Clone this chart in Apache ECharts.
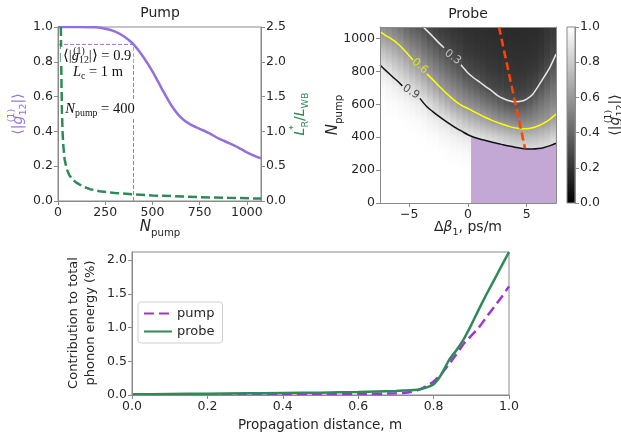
<!DOCTYPE html>
<html><head><meta charset="utf-8">
<script src="https://cdn.jsdelivr.net/npm/echarts@6/dist/echarts.min.js"></script>
<style>html,body{margin:0;padding:0;background:#fff}#c{width:621px;height:439px}</style>
</head><body><div id="c"></div>
<script>
// ---------- Pump panel ----------
const pumpN = [0,100,200,250,300,350,400,450,500,550,600,650,700,750,800,850,900,950,1000,1050,1075];
const pumpG = [1,1,0.998,0.99,0.975,0.945,0.9,0.83,0.745,0.645,0.55,0.48,0.44,0.415,0.39,0.36,0.335,0.31,0.28,0.255,0.245];
const lrN = [15,17,19,21,24,28,35,45,60,80,100,130,170,220,300,400,500,600,750,900,1075];
const lrRatio = [2.5,2.0,1.6,1.3,1.0,0.8,0.6,0.47,0.37,0.3,0.26,0.21,0.17,0.14,0.115,0.095,0.08,0.07,0.055,0.045,0.035];
const pumpMarkN = 400, pumpMarkG = 0.9;
const pumpXTicks = [0,250,500,750,1000];

// ---------- Probe panel ----------
const probeDB = [-7.25,-6.75,-6.25,-5.75,-5.25,-4.75,-4.25,-3.75,-3.25,-2.75,-2.25,-1.75,-1.25,-0.75,-0.25,0.25,0.75,1.25,1.75,2.25,2.75,3.25,3.75,4.25,4.75,5.25,5.75,6.25,6.75,7.25];
const probeNLevels = [0,100,200,300,400,500,600,700,800,900,1000,1100];
const probeG = [
 [1,1,1,1,1,1,0.997,0.975,0.915,0.79,0.64,0.52],
 [1,1,1,1,1,1,0.99,0.96,0.885,0.75,0.61,0.49],
 [1,1,1,1,1,1,0.985,0.94,0.84,0.71,0.58,0.45],
 [1,1,1,1,1,0.997,0.975,0.915,0.8,0.67,0.54,0.41],
 [1,1,1,1,1,0.993,0.96,0.89,0.755,0.62,0.49,0.36],
 [1,1,1,1,1,0.988,0.945,0.85,0.71,0.57,0.45,0.32],
 [1,1,1,1,0.998,0.98,0.925,0.81,0.665,0.54,0.425,0.31],
 [1,1,1,1,0.995,0.968,0.905,0.76,0.615,0.49,0.38,0.28],
 [1,1,1,1,0.99,0.948,0.856,0.705,0.563,0.45,0.334,0.255],
 [1,1,1,1,0.983,0.93,0.808,0.65,0.522,0.407,0.295,0.232],
 [1,1,1,0.996,0.97,0.91,0.758,0.594,0.48,0.366,0.27,0.22],
 [1,1,1,0.993,0.96,0.882,0.707,0.555,0.44,0.325,0.25,0.207],
 [1,1,1,0.988,0.945,0.838,0.655,0.518,0.4,0.29,0.23,0.197],
 [1,1,1,0.984,0.932,0.796,0.606,0.482,0.361,0.267,0.217,0.19],
 [1,1,0.997,0.975,0.918,0.758,0.577,0.44,0.304,0.237,0.2,0.18],
 [1,1,0.995,0.968,0.905,0.723,0.55,0.407,0.283,0.226,0.195,0.177],
 [1,1,0.994,0.962,0.888,0.69,0.52,0.371,0.266,0.216,0.19,0.175],
 [1,1,0.992,0.958,0.867,0.658,0.488,0.333,0.25,0.207,0.186,0.173],
 [1,1,0.99,0.95,0.845,0.626,0.456,0.297,0.233,0.2,0.18,0.17],
 [1,1,0.988,0.945,0.822,0.595,0.42,0.28,0.223,0.195,0.178,0.168],
 [1,1,0.986,0.94,0.8,0.569,0.383,0.265,0.215,0.19,0.175,0.165],
 [1,1,0.985,0.935,0.776,0.545,0.354,0.253,0.21,0.187,0.173,0.163],
 [1,1,0.982,0.93,0.754,0.525,0.334,0.247,0.206,0.185,0.172,0.162],
 [1,1,0.98,0.925,0.737,0.515,0.33,0.246,0.205,0.184,0.171,0.162],
 [1,1,0.978,0.92,0.729,0.517,0.343,0.25,0.208,0.186,0.172,0.163],
 [1,1,0.977,0.918,0.73,0.529,0.371,0.265,0.215,0.19,0.175,0.165],
 [1,1,0.977,0.918,0.742,0.551,0.415,0.29,0.228,0.197,0.178,0.168],
 [1,1,0.98,0.923,0.762,0.575,0.46,0.346,0.262,0.213,0.19,0.175],
 [1,1,0.983,0.93,0.79,0.598,0.498,0.398,0.3,0.245,0.215,0.195],
 [1,1,0.986,0.94,0.822,0.644,0.534,0.446,0.358,0.28,0.235,0.21]
];
const contour09 = [[-7.5,839],[-7,805],[-6.5,772],[-6,740],[-5.6,712],null,[-4.1,636],[-3.5,585],[-3,556],[-2.5,528],[-2,502],[-1.5,478],[-1,455],[-0.5,435],[0,415],[0.5,400],[1,389],[1.5,380],[2,371],[2.5,362],[3,354],[3.5,346],[4,339],[4.5,333],[5,329],[5.5,328],[6,331],[6.5,338],[7,349],[7.5,363]];
const contour06 = [[-7.5,1040],[-7,1018],[-6.5,996],[-6,970],[-5.5,935],[-5,895],[-4.7,870],null,[-3.5,785],[-3,750],[-2.5,713],[-2,678],[-1.5,645],[-1,615],[-0.5,592],[0,575],[0.5,555],[1,537],[1.5,520],[2,504],[2.5,490],[3,477],[3.5,466],[4,457],[4.5,452],[5,452],[5.5,458],[6,470],[6.5,487],[7,510],[7.5,540]];
const contour03 = [[-4.1,1090],[-3.5,1048],[-3,1012],[-2.5,975],[-2.05,944],null,[-0.6,840],[-0.3,815],[0,790],[0.5,760],[1,735],[1.5,708],[2,683],[2.5,655],[3,635],[3.5,622],[4,615],[4.5,618],[5,632],[5.5,660],[6,712],[6.5,768],[7,828],[7.5,905]];
const contourLabels = [
  {pos:[-4.86,675], text:'0.9', angle:-33, color:'#2a2a2a'},
  {pos:[-4.1,832], text:'0.6', angle:-42, color:'#f0f000'},
  {pos:[-1.3,887], text:'0.3', angle:-36, color:'#d8d8d8'}
];
const optimumLine = [[2.64,1070],[4.86,332]];
const shadedRegion = [[0.26,406],[0.5,400],[1,389],[1.5,380],[2,371],[2.5,362],[3,354],[3.5,346],[4,339],[4.5,333],[5,329],[5.5,328],[6,331],[6.5,338],[7,349],[7.5,363]];
const probeXTicks = [-5,0,5];
const probeYTicks = [0,200,400,600,800,1000];

// ---------- Bottom panel ----------
const distX = [0,0.1,0.2,0.3,0.4,0.5,0.6,0.7,0.72,0.74,0.76,0.78,0.8,0.82,0.84,0.86,0.88,0.9,0.92,0.94,0.96,0.98,1.0];
const pumpContrib = [0.005,0.005,0.005,0.006,0.006,0.008,0.012,0.025,0.03,0.045,0.075,0.13,0.2,0.31,0.45,0.6,0.76,0.88,1.0,1.155,1.3,1.45,1.61];
const probeContrib = [0.01,0.015,0.02,0.025,0.03,0.035,0.045,0.06,0.065,0.07,0.08,0.11,0.16,0.3,0.51,0.66,0.83,1.04,1.27,1.49,1.7,1.91,2.12];
const bottomYTicks = [0,0.5,1.0,1.5,2.0];

// ---------- styles ----------
const AX = '#8a8a8a', TXT = '#262626', FONT = 'DejaVu Sans';
const PURPLE = '#9370DB', GREEN = '#2E8B57', PURPLE2 = '#9a36d6';
function zip(a,b){return a.map((v,i)=>[v,b[i]]);}
function pts(a){return a.map(p=>p?p:['-','-']);}
function gray(v){const c=Math.round(Math.max(0,Math.min(1,v))*255);return 'rgb('+c+','+c+','+c+')';}
const fmt1 = v => Number(v).toFixed(1);
const fmtInt = v => String(v);
function lbl(extra){return Object.assign({color:TXT,fontSize:12.5,fontFamily:FONT,margin:5},extra||{});}
function tck(extra){return Object.assign({show:true,length:4,lineStyle:{color:AX}},extra||{});}
function axisBase(extra){
  return Object.assign({
    type:'value', z:6,
    axisLine:{show:true, onZero:false, lineStyle:{color:AX,width:1}},
    axisTick:tck(),
    axisLabel:lbl(),
    splitLine:{show:false}
  }, extra);
}
function mathRich(size, color, serif, lh){
  const fam = serif ? 'Liberation Serif' : FONT;
  const L = size + (lh||8);
  return {
    a:{fontSize:size, fill:color, fontFamily:fam, lineHeight:L},
    i:{fontSize:size, fill:color, fontFamily:fam, fontStyle:'italic', lineHeight:L},
    sp:{fontSize:size*0.68, fill:color, fontFamily:fam, verticalAlign:'top', width:0.1, align:'left'},
    sb:{fontSize:size*0.68, fill:color, fontFamily:fam, verticalAlign:'bottom'}
  };
}
function gText(x,y,text,size,color,rot,serif,bg){
  const st = {text:text, rich:mathRich(size,color,serif,bg?4:8), fill:color, fontSize:size, fontFamily: serif?'Liberation Serif':FONT, align:'center', verticalAlign:'middle'};
  if (bg){ st.backgroundColor='#fff'; st.padding=[0,2]; }
  return {type:'text', x:x, y:y, rotation:rot||0, z:50, style:st};
}

const chart = echarts.init(document.getElementById('c'), null, {renderer:'canvas'});
const option = {
  animation:false,
  backgroundColor:'#fff',
  textStyle:{fontFamily:FONT},
  grid:[
    {left:58, top:27, width:203, height:174, show:true, borderColor:AX, borderWidth:1, backgroundColor:'transparent'},
    {left:380, top:27, width:176, height:176, show:false},
    {left:567, top:27, width:8, height:176, show:false},
    {left:132, top:252, width:377, height:143, show:true, borderColor:AX, borderWidth:1, backgroundColor:'transparent'}
  ],
  xAxis:[
    axisBase({gridIndex:0, min:0, max:1075, axisLabel:lbl({customValues:pumpXTicks, formatter:fmtInt}), axisTick:tck({customValues:pumpXTicks})}),
    axisBase({gridIndex:1, min:-7.5, max:7.5, axisLabel:lbl({customValues:probeXTicks, formatter:v=>v<0?'\u2212'+Math.abs(v):String(v)}), axisTick:tck({customValues:probeXTicks})}),
    {type:'value', gridIndex:2, min:0, max:1, show:false},
    axisBase({gridIndex:3, min:0, max:1, interval:0.2, axisLabel:lbl({formatter:fmt1})}),
    {type:'value', gridIndex:1, min:-7.5, max:7.5, position:'top', z:6, axisLine:{show:true,onZero:false,lineStyle:{color:AX}}, axisTick:{show:false}, axisLabel:{show:false}, splitLine:{show:false}}
  ],
  yAxis:[
    axisBase({gridIndex:0, min:0, max:1, interval:0.2, axisLabel:lbl({formatter:fmt1})}),
    axisBase({gridIndex:0, min:0, max:2.5, interval:0.5, position:'right', axisLabel:lbl({formatter:fmt1})}),
    axisBase({gridIndex:1, min:0, max:1070, axisLabel:lbl({customValues:probeYTicks, formatter:fmtInt}), axisTick:tck({customValues:probeYTicks})}),
    axisBase({gridIndex:2, min:0, max:1, interval:0.2, position:'right', axisLabel:lbl({formatter:fmt1})}),
    axisBase({gridIndex:3, min:0, max:2.12, axisLabel:lbl({customValues:bottomYTicks, formatter:fmt1}), axisTick:tck({customValues:bottomYTicks})}),
    {type:'value', gridIndex:1, min:0, max:1070, position:'right', z:6, axisLine:{show:true,onZero:false,lineStyle:{color:AX}}, axisTick:{show:false}, axisLabel:{show:false}, splitLine:{show:false}}
  ],
  legend:{
    data:['pump','probe'], orient:'vertical', left:138, top:302,
    backgroundColor:'#fff', borderColor:'#d0d0d0', borderWidth:1, borderRadius:3,
    padding:[5,8,5,5], itemGap:5, itemWidth:28, itemHeight:12,
    itemStyle:{opacity:0},
    textStyle:{fontSize:13, color:TXT, fontFamily:FONT}
  },
  series:[
    {type:'line', name:'gpump', xAxisIndex:0, yAxisIndex:0, data:zip(pumpN,pumpG), symbol:'none', smooth:0.25, lineStyle:{color:PURPLE,width:2.5}, z:3},
    {type:'line', name:'LR', xAxisIndex:0, yAxisIndex:1, data:zip(lrN,lrRatio), symbol:'none', smooth:false, lineStyle:{color:GREEN,width:2.5,type:[9,4]}, z:3},
    {type:'line', name:'mark', xAxisIndex:0, yAxisIndex:0, data:[[0,pumpMarkG],[pumpMarkN,pumpMarkG],[pumpMarkN,0]], symbol:'none', itemStyle:{color:PURPLE}, lineStyle:{color:PURPLE,width:1,type:[4,2]}, z:2},
    {type:'custom', name:'probeMap', xAxisIndex:1, yAxisIndex:2, clip:true, z:1,
      data: probeDB.map((x,i)=>[x,i]),
      renderItem:function(params, api){
        const x = api.value(0), i = api.value(1);
        const half = (probeDB[1]-probeDB[0])/2;
        const n0 = probeNLevels[0], n1 = probeNLevels[probeNLevels.length-1];
        const pL = api.coord([x-half, n0]);
        const pR = api.coord([x+half, n1]);
        const stops = probeG[i].map((v,k)=>({offset:(probeNLevels[k]-n0)/(n1-n0), color:gray(v)}));
        return {type:'rect', shape:{x:pL[0], y:pR[1], width:pR[0]-pL[0]+0.7, height:pL[1]-pR[1]},
          style:{fill:new echarts.graphic.LinearGradient(0,1,0,0,stops)}};
      }},
    {type:'line', name:'shade', xAxisIndex:1, yAxisIndex:2, data:shadedRegion, symbol:'none', smooth:0.3, lineStyle:{width:0}, areaStyle:{color:'#c3a7d5', opacity:1}, z:2},
    {type:'line', name:'c09', xAxisIndex:1, yAxisIndex:2, data:pts(contour09), symbol:'none', smooth:0.3, connectNulls:false, lineStyle:{color:'#111',width:1.5}, z:3},
    {type:'line', name:'c06', xAxisIndex:1, yAxisIndex:2, data:pts(contour06), symbol:'none', smooth:0.3, connectNulls:false, lineStyle:{color:'#ffff00',width:1.5}, z:3},
    {type:'line', name:'c03', xAxisIndex:1, yAxisIndex:2, data:pts(contour03), symbol:'none', smooth:0.3, connectNulls:false, lineStyle:{color:'#e6e6e6',width:1.5}, z:3},
    {type:'line', name:'opt', xAxisIndex:1, yAxisIndex:2, data:optimumLine, symbol:'none', lineStyle:{color:'#ff4500',width:2.5,type:[8,4]}, z:4},
    {type:'scatter', name:'clabels', xAxisIndex:1, yAxisIndex:2, symbolSize:0, z:5,
      data: contourLabels.map(c=>({value:c.pos, label:{show:true, position:'inside', formatter:c.text, rotate:c.angle, color:c.color, fontSize:11, fontFamily:FONT}}))},
    {type:'custom', name:'cbar', xAxisIndex:2, yAxisIndex:3, data:[[0,0]], z:1,
      renderItem:function(params, api){
        const p0 = api.coord([0,0]), p1 = api.coord([1,1]);
        return {type:'rect', shape:{x:p0[0], y:p1[1], width:p1[0]-p0[0], height:p0[1]-p1[1]},
          style:{stroke:AX, lineWidth:1, fill:new echarts.graphic.LinearGradient(0,1,0,0,[{offset:0,color:gray(0)},{offset:1,color:gray(1)}])}};
      }},
    {type:'line', name:'pump', xAxisIndex:3, yAxisIndex:4, data:zip(distX,pumpContrib), symbol:'none', smooth:0.2, itemStyle:{color:PURPLE2}, lineStyle:{color:PURPLE2,width:2.5,type:[10,5]}, z:3},
    {type:'line', name:'probe', xAxisIndex:3, yAxisIndex:4, data:zip(distX,probeContrib), symbol:'none', smooth:0.2, itemStyle:{color:GREEN}, lineStyle:{color:GREEN,width:2.5}, z:4}
  ],
  graphic:[
    gText(160,13,'{a|Pump}',14,TXT),
    gText(468,14,'{a|Probe}',14,TXT),
    gText(160,227,'{i|N}{sb|pump}',15,TXT),
    gText(468,227,'{a|\u0394}{i|\u03b2}{sb|1}{a|, ps/m}',14,TXT),
    gText(320,425,'{a|Propagation distance, m}',13.5,TXT),
    gText(18,114,'{a|\u27e8|}{i|g}{sp|(1)}{sb|12}{a||\u27e9}',14,PURPLE,Math.PI/2),
    gText(300,114,'{i|L}{sp|*}{sb|R}{a|/}{i|L}{sb|WB}',14,GREEN,Math.PI/2),
    gText(333,115,'{i|N}{sb|pump}',15,TXT,Math.PI/2),
    gText(615,115,'{a|\u27e8|}{i|g}{sp|(1)}{sb|12}{a||\u27e9}',14,TXT,Math.PI/2),
    {type:'text', x:82, y:323, rotation:Math.PI/2, z:50, style:{text:'Contribution to total\nphonon energy (%)', fontSize:13, lineHeight:17, fontFamily:FONT, fill:TXT, align:'center', verticalAlign:'middle'}},
    gText(97,56,'{a|\u27e8|}{i|g}{sp|(1)}{sb|12}{a||\u27e9 = 0.9}',14.5,'#111',0,true,true),
    gText(98,72,'{i|L}{sb|c}{a| = 1 m}',14.5,'#111',0,true,true),
    gText(100,109,'{i|N}{sb|pump}{a| = 400}',14.5,'#111',0,true,true)
  ]
};
chart.setOption(option);
</script></body></html>
